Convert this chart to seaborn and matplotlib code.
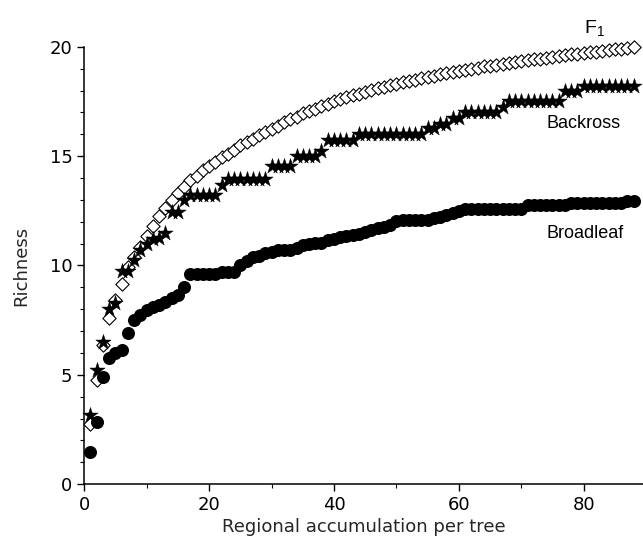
import numpy as np
import pandas as pd
import matplotlib
matplotlib.use("Agg")
import matplotlib.pyplot as plt
import seaborn as sns
from matplotlib.ticker import MultipleLocator

# x positions: trees sampled
trees = list(range(1, 89))

# F1 hybrids (open diamonds)
f1 = [2.75, 4.75, 6.35, 7.6, 8.4, 9.15, 9.95, 10.4, 10.85, 11.35,
      11.8, 12.25, 12.65, 13.0, 13.3, 13.6, 13.9, 14.1, 14.35, 14.55,
      14.75, 14.95, 15.12, 15.3, 15.5, 15.65, 15.8, 15.95, 16.1, 16.25,
      16.4, 16.55, 16.7, 16.8, 16.95, 17.05, 17.15, 17.3, 17.4, 17.5,
      17.6, 17.7, 17.78, 17.86, 17.94, 18.02, 18.1, 18.17, 18.24, 18.31,
      18.38, 18.44, 18.5, 18.56, 18.62, 18.68, 18.74, 18.8, 18.85, 18.9,
      18.95, 19.0, 19.05, 19.1, 19.14, 19.18, 19.22, 19.26, 19.3, 19.34,
      19.38, 19.42, 19.46, 19.5, 19.54, 19.58, 19.62, 19.65, 19.68, 19.71,
      19.74, 19.77, 19.8, 19.84, 19.88, 19.92, 19.96, 20.0]

# backcross (stars)
backross = [3.17, 5.22, 6.5, 8.0, 8.28, 9.75, 9.75, 10.23, 10.72, 11.0,
            11.22, 11.25, 11.48, 12.45, 12.45, 12.98, 13.2, 13.2, 13.2, 13.2,
            13.2, 13.67, 13.94, 13.94, 13.94, 13.94, 13.94, 13.94, 13.94, 14.54,
            14.54, 14.54, 14.54, 15.0, 15.0, 15.0, 15.0, 15.25, 15.74, 15.74,
            15.74, 15.74, 15.74, 16.0, 16.0, 16.0, 16.0, 16.0, 16.0, 16.0,
            16.0, 16.0, 16.0, 16.0, 16.27, 16.27, 16.47, 16.47, 16.73, 16.73,
            17.0, 17.0, 17.0, 17.0, 17.0, 17.0, 17.24, 17.5, 17.5, 17.5,
            17.5, 17.5, 17.5, 17.5, 17.5, 17.5, 17.96, 17.96, 17.96, 18.22,
            18.22, 18.22, 18.22, 18.22, 18.22, 18.22, 18.22, 18.22]

# broadleaf (filled circles)
broadleaf = [1.45, 2.85, 4.9, 5.75, 6.0, 6.15, 6.9, 7.5, 7.75, 7.95,
             8.1, 8.2, 8.35, 8.5, 8.65, 9.0, 9.62, 9.62, 9.62, 9.62,
             9.62, 9.72, 9.72, 9.72, 10.0, 10.2, 10.4, 10.45, 10.55, 10.6,
             10.7, 10.7, 10.7, 10.8, 10.92, 11.0, 11.05, 11.05, 11.15, 11.23,
             11.3, 11.34, 11.4, 11.46, 11.55, 11.6, 11.7, 11.75, 11.85, 12.05,
             12.08, 12.08, 12.08, 12.08, 12.08, 12.15, 12.23, 12.3, 12.38, 12.5,
             12.6, 12.6, 12.6, 12.6, 12.6, 12.6, 12.6, 12.6, 12.6, 12.6,
             12.77, 12.77, 12.77, 12.77, 12.77, 12.77, 12.77, 12.85, 12.85, 12.85,
             12.85, 12.85, 12.85, 12.85, 12.85, 12.85, 12.97, 12.97]

df = pd.DataFrame({"tree": trees, "F1": f1, "Backross": backross, "Broadleaf": broadleaf})

sns.set_style("ticks")
plt.rcParams["font.family"] = ["DejaVu Sans"]
plt.rcParams["mathtext.fontset"] = "custom"
plt.rcParams["mathtext.rm"] = "Liberation Sans"

fig = plt.figure(figsize=(6.43, 5.44), dpi=100)
ax = fig.add_axes([0.131, 0.110, 0.869, 0.804])

sns.scatterplot(data=df, x="tree", y="F1", marker="D", s=46, facecolor="white",
                edgecolor="black", linewidth=0.8, ax=ax, clip_on=False, zorder=3)
sns.scatterplot(data=df, x="tree", y="Backross", marker="*", s=135, color="black",
                edgecolor="black", linewidth=0.3, ax=ax, clip_on=False, zorder=4)
sns.scatterplot(data=df, x="tree", y="Broadleaf", marker="o", s=88, color="black",
                edgecolor="black", linewidth=0, ax=ax, clip_on=False, zorder=5)

ax.set_xlim(0, 89.5)
ax.set_ylim(0, 20)
ax.xaxis.set_major_locator(MultipleLocator(20))
ax.xaxis.set_minor_locator(MultipleLocator(10))
ax.yaxis.set_major_locator(MultipleLocator(5))
ax.yaxis.set_minor_locator(MultipleLocator(1))
ax.tick_params(which="major", length=5, width=1, labelsize=13, color="black", labelcolor="black")
ax.tick_params(which="minor", length=3, width=0.8, color="black")
ax.set_xlabel("Regional accumulation per tree", fontsize=13, labelpad=3)
ax.set_ylabel("Richness", fontsize=13, labelpad=14)
for sp in ["left", "bottom"]:
    ax.spines[sp].set_linewidth(1.1)
    ax.spines[sp].set_color("black")
sns.despine(ax=ax)

lab = dict(fontsize=13, family="Liberation Sans", color="black")
ax.text(80.0, 20.35, r"F$_{\mathrm{1}}$", ha="left", va="bottom", fontsize=14,
        family="Liberation Sans", color="black")
ax.text(74.0, 16.5, "Backross", ha="left", va="center", **lab)
ax.text(74.0, 11.45, "Broadleaf", ha="left", va="center", **lab)

fig.savefig("out.png", dpi=100)
